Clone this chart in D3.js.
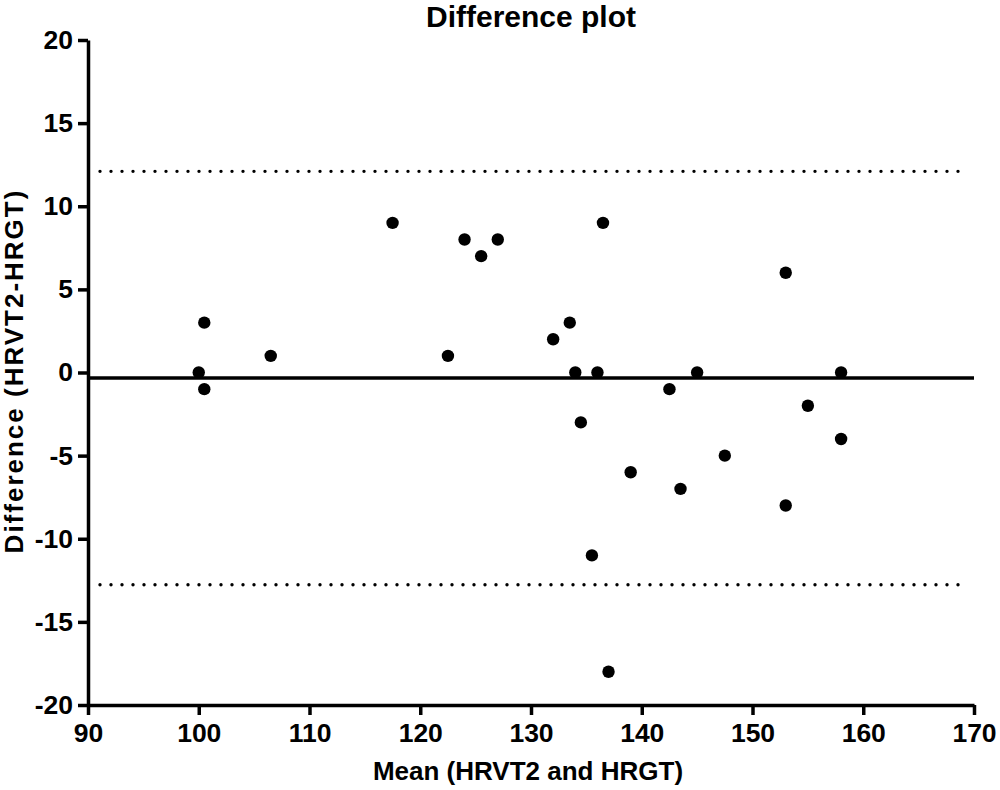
<!DOCTYPE html>
<html>
<head>
<meta charset="utf-8">
<script src="https://cdn.jsdelivr.net/npm/d3@7"></script>
<style>
  body { margin: 0; background: #fff; }
  svg text { font-family: "Liberation Sans", Arial, sans-serif; font-weight: bold; }
</style>
</head>
<body>
<svg id="chart" width="1000" height="790"></svg>
<script>
// mean of the two methods (x) and their difference (y)
var means = [100, 100.5, 100.5, 106.5, 117.5, 122.5, 124, 125.5, 127, 132,
  133.5, 134, 134.5, 136, 135.5, 136.5, 137, 139, 142.5, 143.5,
  145, 147.5, 153, 153, 155, 158, 158]
var diffs = [0, 3, -1, 1, 9, 1, 8, 7, 8, 2,
  3, 0, -3, 0, -11, 9, -18, -6, -1, -7,
  0, -5, 6, -8, -2, 0, -4]

// bias and limits of agreement
var bias = -0.33
var limits = [12.1, -12.77]

var xTicks = [90, 100, 110, 120, 130, 140, 150, 160, 170]
var yTicks = [-20, -15, -10, -5, 0, 5, 10, 15, 20]

var LEFT = 88, RIGHT = 974, TOP = 40, BOTTOM = 705
var LINE_W = 3.5

var svg = d3.select("#chart")

var x = d3.scaleLinear().domain([90, 170]).range([LEFT, RIGHT])
var y = d3.scaleLinear().domain([-20, 20]).range([BOTTOM, TOP])

// plain hyphen instead of d3's unicode minus
function plain(d) { return String(d) }

// limits of agreement (dotted)
svg.selectAll(".limit")
  .data(limits)
  .enter().append("line")
  .attr("class", "limit")
  .attr("x1", LEFT + 12)
  .attr("x2", RIGHT - 6)
  .attr("y1", function(d) { return y(d) })
  .attr("y2", function(d) { return y(d) })
  .attr("stroke", "#000")
  .attr("stroke-width", 3.4)
  .attr("stroke-linecap", "round")
  .attr("stroke-dasharray", "0,11")

// bias line
svg.append("line")
  .attr("x1", LEFT)
  .attr("x2", RIGHT)
  .attr("y1", y(bias))
  .attr("y2", y(bias))
  .attr("stroke", "#000")
  .attr("stroke-width", LINE_W)

function styleAxis(g) {
  g.attr("font-family", null).attr("font-size", null)
  g.select(".domain").attr("stroke-width", LINE_W).attr("stroke", "#000")
  g.selectAll(".tick line").attr("stroke-width", LINE_W).attr("stroke", "#000")
  g.selectAll(".tick text")
    .attr("fill", "#000")
    .style("font-size", "26.5px")
}

var xAxis = svg.append("g")
  .attr("transform", "translate(0," + BOTTOM + ")")
  .call(d3.axisBottom(x).tickValues(xTicks).tickFormat(plain)
    .tickSize(10).tickSizeOuter(0).tickPadding(8))
styleAxis(xAxis)

var yAxis = svg.append("g")
  .attr("transform", "translate(" + LEFT + ",0)")
  .call(d3.axisLeft(y).tickValues(yTicks).tickFormat(plain)
    .tickSize(10).tickSizeOuter(0).tickPadding(5))
styleAxis(yAxis)

// points
svg.selectAll(".pt")
  .data(means)
  .enter().append("circle")
  .attr("class", "pt")
  .attr("cx", function(d) { return x(d) })
  .attr("cy", function(d, i) { return y(diffs[i]) })
  .attr("r", 6.2)
  .attr("fill", "#000")

// titles
svg.append("text")
  .attr("x", (LEFT + RIGHT) / 2)
  .attr("y", 27)
  .attr("text-anchor", "middle")
  .style("font-size", "30px")
  .text("Difference plot")

svg.append("text")
  .attr("x", (LEFT + RIGHT) / 2 - 3)
  .attr("y", 780)
  .attr("text-anchor", "middle")
  .style("font-size", "26px")
  .text("Mean (HRVT2 and HRGT)")

svg.append("text")
  .attr("transform", "translate(23," + 371 + ") rotate(-90)")
  .attr("text-anchor", "middle")
  .style("font-size", "26px")
  .style("letter-spacing", "2px")
  .text("Difference (HRVT2-HRGT)")
</script>
</body>
</html>
